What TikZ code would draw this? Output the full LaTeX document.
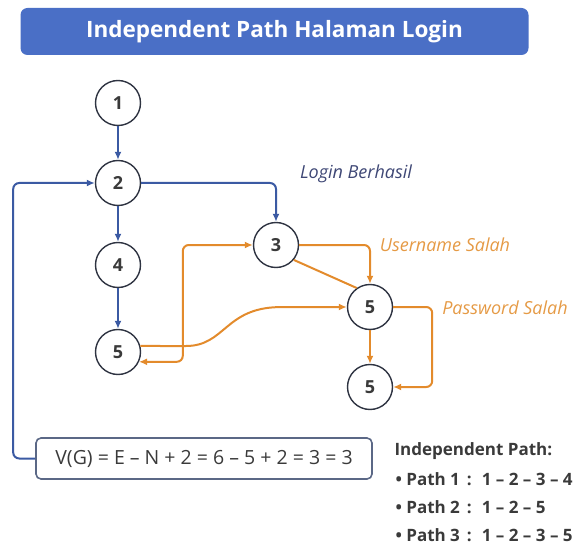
\documentclass[tikz,border=0pt]{standalone}
\usepackage{fontspec}
\setmainfont{Open Sans}
\usetikzlibrary{arrows.meta}
\definecolor{titleblue}{HTML}{4A6FC6}
\definecolor{lineblue}{HTML}{3B5AA3}
\definecolor{orangec}{HTML}{E38B2C}
\definecolor{orangelbl}{HTML}{E59A45}
\definecolor{nodeline}{HTML}{2F3442}
\definecolor{txt}{HTML}{3A3A3A}
\definecolor{boxline}{HTML}{5B6886}
\definecolor{lblblue}{HTML}{3E4775}
\newcommand{\pline}[2]{• Path #1\hspace{7pt}:\hspace{10pt}#2}
\begin{document}
\begin{tikzpicture}[x=1pt,y=-1pt,
  vtx/.style={circle,draw=nodeline,line width=1.4pt,fill=white,minimum size=45pt,inner sep=0pt,font=\fontsize{18}{20}\selectfont\bfseries,text=txt},
  bl/.style={draw=lineblue,line width=2pt,-{Latex[length=8pt,width=7pt]},rounded corners=6pt},
  orl/.style={draw=orangec,line width=2pt,-{Latex[length=8pt,width=7pt]},rounded corners=6pt},
  lbl/.style={font=\fontsize{18}{20}\selectfont\itshape},
  rtxt/.style={anchor=west,text=txt,font=\fontsize{17}{20}\selectfont\bfseries}
]
\useasboundingbox (0,0) rectangle (586,548);
\node[fill=titleblue,rounded corners=7pt,minimum width=508pt,minimum height=47pt,text=white,font=\fontsize{22.5}{26}\selectfont\bfseries] (title) at (274.5,31.5) {Independent Path Halaman Login};

\node[vtx] (n1) at (118,103) {1};
\node[vtx] (n2) at (118,183) {2};
\node[vtx] (n4) at (118,265) {4};
\node[vtx] (n5a) at (118,352) {5};
\node[vtx] (n3) at (276,245) {3};
\node[vtx] (n5b) at (370,307) {5};
\node[vtx] (n5c) at (370,387) {5};

\node[draw=boxline,line width=1.6pt,rounded corners=5pt,minimum width=336pt,minimum height=41pt,text=txt,font=\fontsize{19.5}{22}\selectfont] (vg) at (204,458.5) {V(G) = E – N + 2 = 6 – 5 + 2 = 3 = 3};

\draw[bl] (n1) -- (n2);
\draw[bl] (n2) -- (n4);
\draw[bl] (n4) -- (n5a);
\draw[bl] (n2.east) -| (n3.north);
\draw[bl] (vg.west) -- ++(-22,0) |- (n2.west);

\draw[orl] (n3.east) -| (n5b.north);
\draw[orl,-] (n3.-40) -- (n5b.125);
\draw[orl,{Latex[length=8pt,width=7pt]}-{Latex[length=8pt,width=7pt]}] (n5a.-25) -| ([xshift=-70pt]n3.west) -- (n3.west);
\draw[orl] (n5a.15) -- (180,346) .. controls (225,346) and (225,308) .. (285,307) -- (n5b.west);
\draw[orl] (n5b) -- (n5c);
\draw[orl] (n5b.east) -- ++(39,0) |- (n5c.east);

\node[lbl,text=lblblue] (l1) at (356,174) {Login Berhasil};
\node[lbl,text=orangelbl] (l2) at (445,245) {Username Salah};
\node[lbl,text=orangelbl] (l3) at (505,308) {Password Salah};

\node[rtxt] (ip) at (391,451) {Independent Path:};
\node[rtxt] (p1) at (392,479) {\pline{1}{1 – 2 – 3 – 4}};
\node[rtxt] (p2) at (392,507) {\pline{2}{1 – 2 – 5}};
\node[rtxt] (p3) at (392,535) {\pline{3}{1 – 2 – 3 – 5}};
\end{tikzpicture}
\end{document}
